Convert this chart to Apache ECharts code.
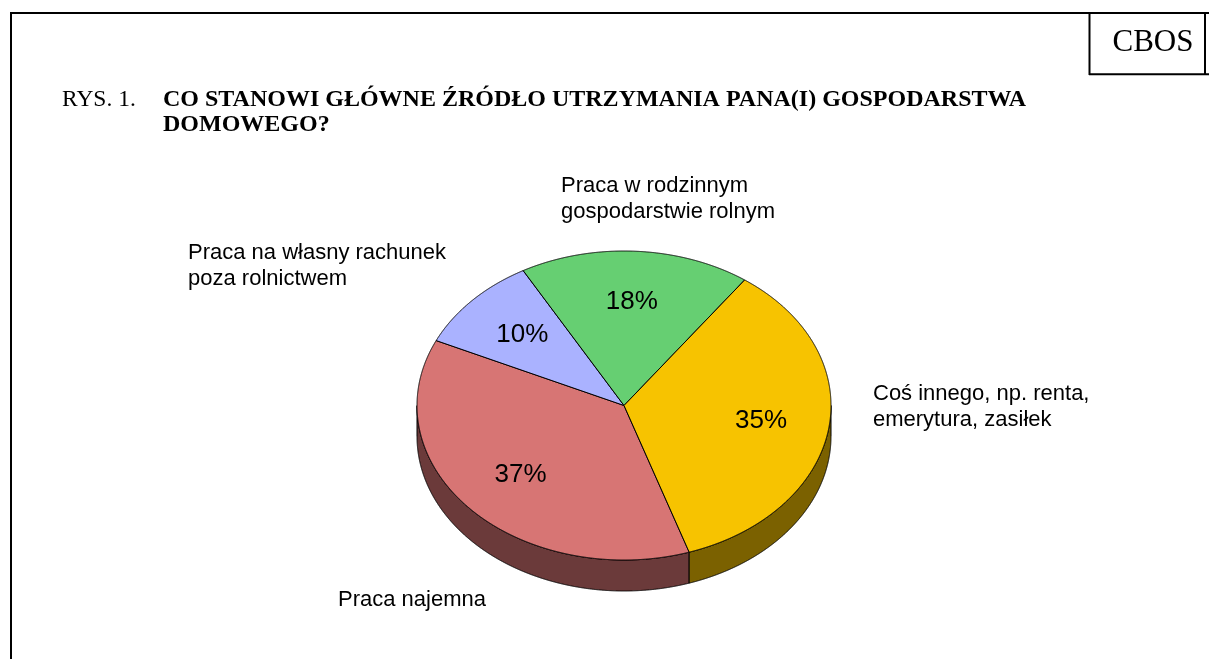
<!DOCTYPE html>
<html>
<head>
<meta charset="utf-8">
<script src="https://cdn.jsdelivr.net/npm/echarts@6/dist/echarts.min.js"></script>
<style>
    html, body { margin: 0; padding: 0; background: #fff; }
    #chart { width: 1209px; height: 659px; }
</style>
</head>
<body>
<div id="chart"></div>
<script>
    // data, in drawing order (clockwise)
    var categories = ['Praca najemna', 'Praca na własny rachunek\npoza rolnictwem', 'Praca w rodzinnym\ngospodarstwie rolnym', 'Coś innego, np. renta,\nemerytura, zasiłek'];
    var shares = [37, 10, 18, 35];

    var topColors = ['#d77574', '#aab2ff', '#66cf72', '#f7c300'];
    var sideColors = ['#6b3a3a', '#555980', '#336839', '#7b6100'];
    // left / top of each outside label
    var labelPos = [[338, 587], [188, 240], [561, 173], [873, 381]];

    var cx = 624, cy = 405.5, rx = 207, ry = 154.5, depth = 31;
    var squash = ry / rx;

    var pieData = [];
    var acc = 0;
    shares.forEach(function (v) {
        pieData.push([acc, acc + v, v]);
        acc += v;
    });

    function renderItem(params, api) {
        var a0 = api.value(0), a1 = api.value(1);
        var c = api.coord([0, 0]);
        function pt(r, a, dy) {
            var p = api.coord([r, a]);
            return [p[0], c[1] + (p[1] - c[1]) * squash + (dy || 0)];
        }
        var steps = Math.max(2, Math.ceil((a1 - a0) / 0.02));
        var top = [pt(0, a0)];
        var front = [];
        for (var s = 0; s <= steps; s++) {
            var a = a0 + (a1 - a0) * s / steps;
            top.push(pt(1, a));
            if (api.coord([1, a])[1] >= c[1] - 0.01) front.push(a);
        }
        var children = [];
        if (front.length > 1) {
            var upper = front.map(function (a) { return pt(1, a); });
            var lower = front.slice().reverse().map(function (a) { return pt(1, a, depth); });
            children.push({
                type: 'polygon',
                z2: 1,
                shape: { points: upper.concat(lower) },
                style: { fill: sideColors[params.dataIndex], stroke: '#000', lineWidth: 1 }
            });
        }
        children.push({
            type: 'polygon',
            z2: 10,
            shape: { points: top },
            style: { fill: topColors[params.dataIndex], stroke: '#000', lineWidth: 1 }
        });
        var m = pt(0.67, (a0 + a1) / 2);
        children.push({
            type: 'text',
            z2: 20,
            x: m[0],
            y: m[1],
            style: {
                text: api.value(2) + '%',
                font: '26px "Liberation Sans", Arial, sans-serif',
                fill: '#000',
                align: 'center',
                verticalAlign: 'middle'
            }
        });
        return { type: 'group', children: children };
    }

    var graphics = [
        { type: 'line', shape: { x1: 11, y1: 13, x2: 1209, y2: 13 }, style: { stroke: '#000', lineWidth: 2 } },
        { type: 'line', shape: { x1: 11, y1: 12, x2: 11, y2: 659 }, style: { stroke: '#000', lineWidth: 2 } },
        { type: 'line', shape: { x1: 1089.5, y1: 12, x2: 1089.5, y2: 75 }, style: { stroke: '#000', lineWidth: 2 } },
        { type: 'line', shape: { x1: 1089, y1: 74.3, x2: 1209, y2: 74.3 }, style: { stroke: '#000', lineWidth: 2 } },
        { type: 'line', shape: { x1: 1205, y1: 12, x2: 1205, y2: 75 }, style: { stroke: '#000', lineWidth: 2 } },
        {
            type: 'text', x: 1153, y: 43,
            style: { text: 'CBOS', font: '31px "Liberation Serif", "Times New Roman", serif', fill: '#000', align: 'center', verticalAlign: 'middle' }
        },
        {
            type: 'text', x: 62, y: 100,
            style: { text: 'RYS. 1.', font: '23.5px "Liberation Serif", "Times New Roman", serif', fill: '#000', align: 'left', verticalAlign: 'middle' }
        },
        {
            type: 'text', x: 163, y: 100,
            style: { text: 'CO STANOWI GŁÓWNE ŹRÓDŁO UTRZYMANIA PANA(I) GOSPODARSTWA', font: 'bold 24px "Liberation Serif", "Times New Roman", serif', fill: '#000', align: 'left', verticalAlign: 'middle' }
        },
        {
            type: 'text', x: 163, y: 125,
            style: { text: 'DOMOWEGO?', font: 'bold 24px "Liberation Serif", "Times New Roman", serif', fill: '#000', align: 'left', verticalAlign: 'middle' }
        }
    ];
    categories.forEach(function (name, i) {
        graphics.push({
            type: 'text', x: labelPos[i][0], y: labelPos[i][1],
            style: { text: name, font: '22px "Liberation Sans", Arial, sans-serif', lineHeight: 26, fill: '#000', align: 'left', verticalAlign: 'top' }
        });
    });

    var chart = echarts.init(document.getElementById('chart'));
    var option = {
        backgroundColor: '#fff',
        animation: false,
        polar: { center: [cx, cy], radius: rx },
        angleAxis: { type: 'value', min: 0, max: 100, startAngle: 288.35, clockwise: true, show: false },
        radiusAxis: { type: 'value', min: 0, max: 1, show: false },
        series: [{
            type: 'custom',
            coordinateSystem: 'polar',
            renderItem: renderItem,
            data: pieData
        }],
        graphic: graphics
    };
    chart.setOption(option);
    window.addEventListener('resize', function () {
        chart.resize();
    });
</script>
</body>
</html>
